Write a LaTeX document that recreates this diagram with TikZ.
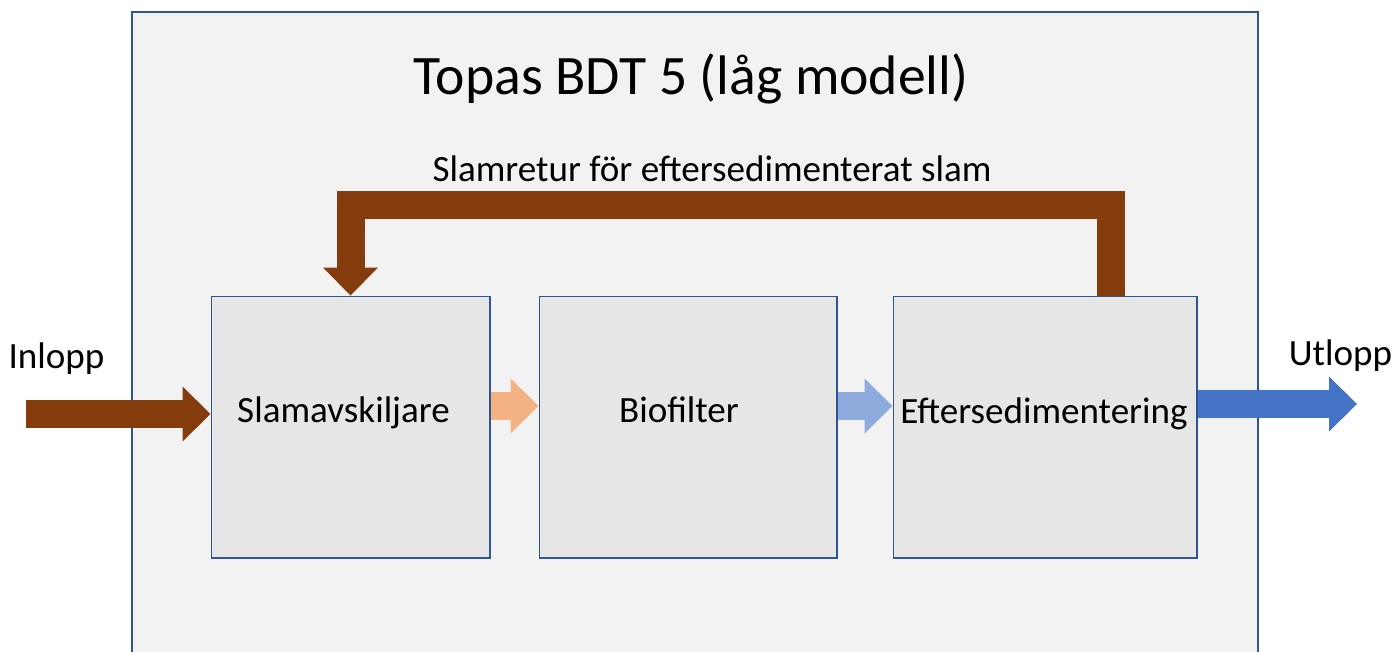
\documentclass[tikz,border=0pt]{standalone}
\usepackage{fontspec}
\setmainfont{Carlito}
\usepackage{tikz}
\usetikzlibrary{arrows.meta}
\usetikzlibrary{positioning}

\definecolor{frameblue}{HTML}{2F5597}
\definecolor{bgpanel}{HTML}{F2F2F2}
\definecolor{boxfill}{HTML}{E7E6E6}
\definecolor{sludge}{HTML}{843C0C}
\definecolor{peach}{HTML}{F4B183}
\definecolor{paleblue}{HTML}{8FAADC}
\definecolor{outblue}{HTML}{4472C4}

\begin{document}
\begin{tikzpicture}[x=0.02cm,y=-0.02cm,
  unit/.style={draw=frameblue,fill=boxfill,line width=0.6pt,minimum height=5.24cm,inner sep=0pt},
  txt/.style={anchor=base,inner sep=0pt,font=\fontsize{21.1}{25}\selectfont},
  flow/.style={line width=0.56cm,line join=miter,
    -{Triangle[length=0.56cm,width=1.1cm,line width=0pt]}}]

  \useasboundingbox (0,0) rectangle (1393,652);

  % panel
  \draw[draw=frameblue,fill=bgpanel,line width=0.8pt] (132,12) rectangle (1258,670);
  \node[anchor=base,inner sep=0pt,font=\fontsize{31.7}{37}\selectfont] (title) at (691,95)
    {Topas BDT 5 (låg modell)};

  % units
  \node[unit,minimum width=5.58cm] (slam) at (350.5,427) {};
  \node[unit,minimum width=5.96cm] (bio) at (688,427) {};
  \node[unit,minimum width=6.08cm] (eft) at (1045,427) {};

  \node[txt] (slamtxt) at (343.5,422) {Slamavskiljare};
  \node[txt] (biotxt) at (679,422) {Biofilter};
  \node[txt] (efttxt) at (1044,423) {Eftersedimentering};

  % in & out
  \node[txt] (inlabel) at (56.5,368) {Inlopp};
  \node[txt] (outlabel) at (1340.5,365) {Utlopp};
  \coordinate (inend) at (26,414);
  \coordinate (outend) at (1357,404);

  \draw[flow,sludge] (inend) -- (inend -| slam.west);
  \draw[flow,peach] (slam.east |- 0,406) -- (bio.west |- 0,406);
  \draw[flow,paleblue] (bio.east |- 0,406) -- (eft.west |- 0,406);
  \draw[flow,outblue] (eft.east |- outend) -- (outend);

  % return sludge
  \draw[flow,sludge] (eft.north -| 1110.5,0) -- (1110.5,205) -| (slam.north);
  \node[txt] (retlabel) at (712,181) {Slamretur för eftersedimenterat slam};

\end{tikzpicture}
\end{document}
